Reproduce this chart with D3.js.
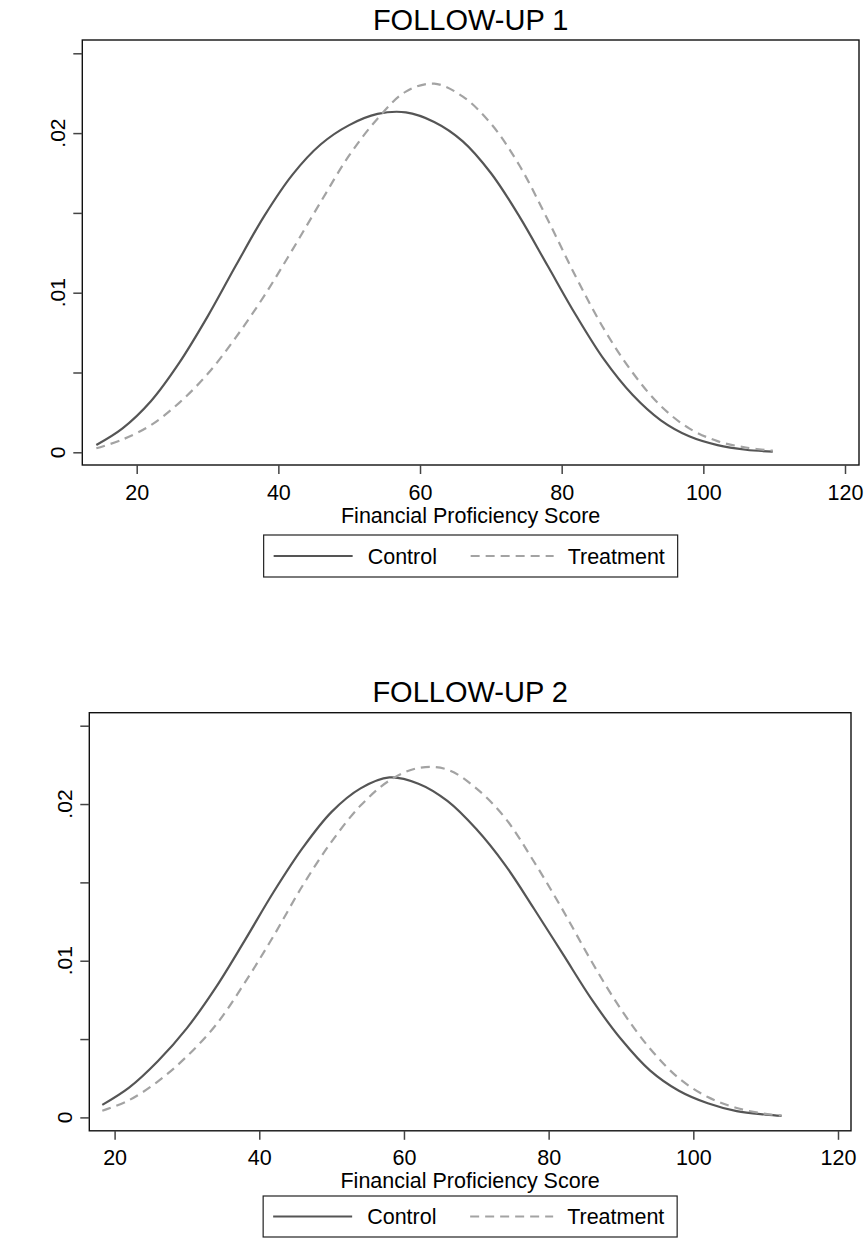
<!DOCTYPE html>
<html>
<head>
<meta charset="utf-8">
<script src="https://cdn.jsdelivr.net/npm/d3@7"></script>
<style>
  html, body { margin: 0; padding: 0; background: #fff; }
  svg { display: block; }
  text { font-family: Arial, "Liberation Sans", Helvetica, sans-serif; fill: #000; }
</style>
</head>
<body>
<svg id="chart" width="868" height="1239"></svg>
<script>
// ---------------- data ----------------
const panelTitles = ["FOLLOW-UP 1", "FOLLOW-UP 2"];
const xAxisTitle = "Financial Proficiency Score";
const seriesNames = ["Control", "Treatment"];
const xTicks = [20, 40, 60, 80, 100, 120];
const xTickLabels = ["20", "40", "60", "80", "100", "120"];
const yTicks = [0, 0.005, 0.01, 0.015, 0.02, 0.025];
const yTickLabels = ["0", "", ".01", "", ".02", ""];

// Follow-up 1
const fu1Score = [14.3, 18, 22, 26, 30, 34, 38, 42, 46, 50, 54, 58, 62, 66, 70, 74, 78, 82, 86, 90, 94, 98, 102, 106, 109.8];
const fu1Control = [0.00046, 0.0015, 0.0032, 0.0056, 0.0085, 0.0117, 0.0148, 0.0174, 0.0193, 0.0205, 0.0212, 0.0213, 0.0207, 0.0195, 0.0175, 0.0148, 0.0117, 0.0086, 0.0058, 0.0036, 0.0020, 0.0010, 0.00045, 0.00016, 0.00004];
const fu1Treatment = [0.00025, 0.0008, 0.0017, 0.0031, 0.0049, 0.0072, 0.0098, 0.0127, 0.0157, 0.0186, 0.0209, 0.0226, 0.0231, 0.0223, 0.0206, 0.0180, 0.0146, 0.0110, 0.0077, 0.0050, 0.0029, 0.0015, 0.0007, 0.0003, 0.0001];

// Follow-up 2
const fu2Score = [18.3, 22, 26, 30, 34, 38, 42, 46, 50, 54, 58, 62, 66, 70, 74, 78, 82, 86, 90, 94, 98, 102, 106, 110, 112.2];
const fu2Control = [0.0008, 0.0019, 0.0036, 0.0057, 0.0083, 0.0113, 0.0144, 0.0172, 0.0195, 0.0210, 0.0217, 0.0213, 0.0202, 0.0184, 0.0161, 0.0133, 0.0104, 0.0075, 0.0050, 0.0030, 0.0017, 0.0009, 0.0004, 0.00018, 0.0001];
const fu2Treatment = [0.00042, 0.0011, 0.0023, 0.0039, 0.0059, 0.0086, 0.0116, 0.0148, 0.0176, 0.0199, 0.0215, 0.0223, 0.0222, 0.0210, 0.0191, 0.0163, 0.0132, 0.0099, 0.0069, 0.0044, 0.0025, 0.0013, 0.0006, 0.00022, 0.00012];

// ---------------- layout ----------------
const panels = [
  { title: panelTitles[0], score: fu1Score, control: fu1Control, treatment: fu1Treatment,
    box: { x0: 82.3, x1: 859, y0: 40, y1: 465 },
    xPix: [136.7, 845], yPix: [452.3, 53.3],
    titleY: 30, xLabelY: 500, xTitleY: 523, legendY: 535, legendH: 42, yLabelX: 65 },
  { title: panelTitles[1], score: fu2Score, control: fu2Control, treatment: fu2Treatment,
    box: { x0: 89.3, x1: 851, y0: 712.7, y1: 1130.8 },
    xPix: [114.6, 838], yPix: [1117.4, 725.7],
    titleY: 702, xLabelY: 1165, xTitleY: 1188, legendY: 1196, legendH: 41, yLabelX: 71.5 }
];

const styles = {
  control: { stroke: "#555555", width: 2.2, dash: null },
  treatment: { stroke: "#a3a3a3", width: 2.2, dash: "9,6" }
};

const svg = d3.select("#chart");

panels.forEach(p => {
  const g = svg.append("g");
  const x = d3.scaleLinear().domain([xTicks[0], xTicks[xTicks.length - 1]]).range(p.xPix);
  const y = d3.scaleLinear().domain([yTicks[0], yTicks[yTicks.length - 1]]).range(p.yPix);
  const cx = (p.box.x0 + p.box.x1) / 2;

  // title
  g.append("text").attr("x", cx).attr("y", p.titleY)
    .attr("text-anchor", "middle").style("font-size", "29px").text(p.title);

  // curves
  const line = d3.line().x(d => x(d[0])).y(d => y(d[1])).curve(d3.curveCatmullRom.alpha(0.5));
  const ctrl = p.score.map((s, i) => [s, p.control[i]]);
  const trt = p.score.map((s, i) => [s, p.treatment[i]]);
  g.append("path").datum(ctrl).attr("d", line).attr("fill", "none")
    .attr("stroke", styles.control.stroke).attr("stroke-width", styles.control.width)
    .attr("stroke-linejoin", "round");
  g.append("path").datum(trt).attr("d", line).attr("fill", "none")
    .attr("stroke", styles.treatment.stroke).attr("stroke-width", styles.treatment.width)
    .attr("stroke-dasharray", styles.treatment.dash);

  // box
  g.append("rect").attr("x", p.box.x0).attr("y", p.box.y0)
    .attr("width", p.box.x1 - p.box.x0).attr("height", p.box.y1 - p.box.y0)
    .attr("fill", "none").attr("stroke", "#111").attr("stroke-width", 1.4);

  // x axis ticks
  const xAxis = d3.axisBottom(x).tickValues(xTicks).tickSize(9).tickPadding(0)
    .tickFormat((d, i) => xTickLabels[i]);
  const xg = g.append("g").attr("transform", `translate(0,${p.box.y1})`).call(xAxis);
  xg.select(".domain").remove();
  xg.selectAll(".tick line").attr("stroke", "#444").attr("stroke-width", 1.5);
  xg.selectAll(".tick text").attr("y", p.xLabelY - p.box.y1).attr("dy", null)
    .style("font-size", "21.5px").attr("fill", "#000").attr("font-family", null);

  // y axis ticks
  const yAxis = d3.axisLeft(y).tickValues(yTicks).tickSize(9).tickFormat(() => "");
  const yg = g.append("g").attr("transform", `translate(${p.box.x0},0)`).call(yAxis);
  yg.select(".domain").remove();
  yg.selectAll(".tick line").attr("stroke", "#444").attr("stroke-width", 1.5);
  yg.selectAll(".tick text").remove();
  yTicks.forEach((v, i) => {
    if (!yTickLabels[i]) return;
    g.append("text")
      .attr("transform", `translate(${p.yLabelX},${y(v)}) rotate(-90)`)
      .attr("text-anchor", "middle").style("font-size", "21px").text(yTickLabels[i]);
  });

  // x axis title
  g.append("text").attr("x", cx).attr("y", p.xTitleY)
    .attr("text-anchor", "middle").style("font-size", "21.5px").text(xAxisTitle);

  // legend
  const lw = 414, lx = cx - lw / 2, ly = p.legendY, lh = p.legendH;
  const lg = g.append("g").attr("transform", `translate(${lx},${ly})`);
  lg.append("rect").attr("width", lw).attr("height", lh)
    .attr("fill", "#fff").attr("stroke", "#222").attr("stroke-width", 1.2);
  const my = lh / 2;
  lg.append("line").attr("x1", 10).attr("x2", 89).attr("y1", my).attr("y2", my)
    .attr("stroke", styles.control.stroke).attr("stroke-width", styles.control.width);
  lg.append("text").attr("x", 104).attr("y", my + 7.5).style("font-size", "21.5px").text(seriesNames[0]);
  lg.append("line").attr("x1", 207).attr("x2", 290).attr("y1", my).attr("y2", my)
    .attr("stroke", styles.treatment.stroke).attr("stroke-width", styles.treatment.width)
    .attr("stroke-dasharray", styles.treatment.dash);
  lg.append("text").attr("x", 304).attr("y", my + 7.5).style("font-size", "21.5px").text(seriesNames[1]);
});
</script>
</body>
</html>
